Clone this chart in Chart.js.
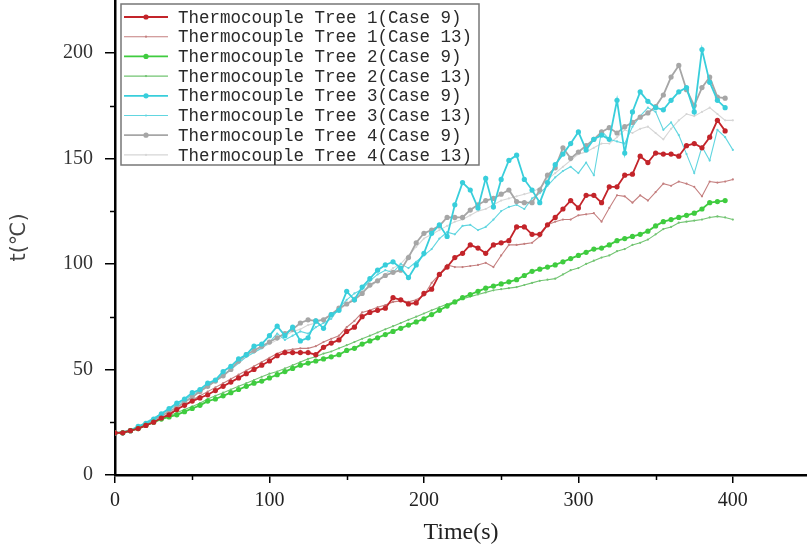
<!DOCTYPE html>
<html>
<head>
<meta charset="utf-8">
<script src="https://cdn.jsdelivr.net/npm/chart.js@4.4.1/dist/chart.umd.min.js"></script>
<style>
html,body{margin:0;padding:0;background:#fff;}
#wrap{width:807px;height:548px;position:relative;}
</style>
</head>
<body>
<div id="wrap"><canvas id="c" width="807" height="548"></canvas></div>
<script>
// time stamps (s)
const time = [0,5,10,15,20,25,30,35,40,45,50,55,60,65,70,75,80,85,90,95,
  100,105,110,115,120,125,130,135,140,145,150,155,160,165,170,175,180,185,190,195,
  200,205,210,215,220,225,230,235,240,245,250,255,260,265,270,275,280,285,290,295,
  300,305,310,315,320,325,330,335,340,345,350,355,360,365,370,375,380,385,390,395,400];

const seriesLabels = [
  "Thermocouple Tree 1(Case 9)", "Thermocouple Tree 1(Case 13)",
  "Thermocouple Tree 2(Case 9)", "Thermocouple Tree 2(Case 13)",
  "Thermocouple Tree 3(Case 9)", "Thermocouple Tree 3(Case 13)",
  "Thermocouple Tree 4(Case 9)", "Thermocouple Tree 4(Case 13)"
];

const tree1Case9 = [20,20,21,22,23.5,25,27,28.5,
  31,33,35,36.5,38,40,42,44,
  46,48,50,52,54,56.5,58,58,
  58,58,57,60.5,62.5,64,68,70,
  75,77,78,79,84,83,81,81.5,
  86,88,95,98.5,103,105,109,107.5,
  105,109,110,111,117.5,117.5,114,114,
  118.5,122,126,130,126.5,132.5,132.5,129,
  136.5,136.5,142,142.5,151,148,152.5,152,
  152,151,156,157,155,160,168,163];

const tree1Case13 = [20,20.5,21,22,23.5,25,27,29,
  31,33,35.5,37.5,39.5,41.5,43.5,45.5,
  47.5,49.5,51.5,53.5,55.5,57.5,59,59.5,
  60,60,61,63,64.5,66,70,73,
  77,78,79.5,80.5,82,82.5,82,83,
  85,91,95,99.5,98.5,98.5,99,99.5,
  100.5,98.5,104,109,109,109.5,110,113,
  118.5,120,121,121,123,123.5,124,120,
  126.5,132.5,132,129,132.5,130,134,138,
  137,139,138,136.5,132,139,138.5,139,
  140];

const tree2Case9 = [20,20,21,22,23.5,25,26.5,27.5,
  28.5,30,31.5,33,35,36,37.5,39,
  40.5,42,43.5,44.5,46,47.5,49,50.5,
  52,53,54,55,56,57,59,60,
  62,63.5,65,66.5,68,69.5,71,72.5,
  74,76,78,80,82,84,85.5,87,
  88.5,89.5,90.5,91.5,92.5,94.5,96.5,97.5,
  98.5,99.5,101,102.5,104,105.5,107,107.5,
  109,111,112,113,114,115.5,118,120,
  121,122,123,124,126,129,129.5,130];

const tree2Case13 = [20,20.5,21,22,23.5,25,26.5,28,
  29.5,31,32.5,34,36,37.5,39,40.5,
  42,43.5,45,46.5,48,49,50.5,52,
  53.5,55,56,57.5,58.5,60,61.5,63,
  64.5,66,67.5,69,70.5,72,73.5,75,
  76.5,78,79.5,81,82,83.5,84.5,85.5,
  86.5,87.5,88,88.5,89,90,91,92,
  92.5,93,95,97,98,100,101.5,103,
  104,106,107,109,110,111.5,114,116.5,
  117.5,119.5,120,120.5,121,122,122.5,122,
  121];

const tree3Case9 = [20,20,21,23,24.5,26.5,29,31.5,
  34,36,39,40.5,43.5,45,49,51.5,
  55,57,61,62,66,70.5,66,70,
  63.5,65,73,69.5,76,78,87,83,
  89,93,97,99.5,101,98,93.5,99.5,
  105,114.5,118.5,113,128,138.5,135,126.5,
  140.5,127,140,149,151.5,140,135,129,
  138.5,147,152,157,162.5,154,159,161,
  159,177.5,152.5,172,181.5,177,174,173,
  177.5,181.5,183.5,172,201.5,186,177.5,174];

const tree3Case13 = [20,20.5,21.5,23,25,27,29,31,
  33,35.5,38,40,42.5,45,47.5,50,
  53,56,58,60,63,67,64,66,
  68,67,70,72,74,79,83,86,
  88,92,95,97,96,100,98,101,
  104,107,112,115,114,118,118.5,116,
  117.5,121,125,127,128,126,131,133.5,
  137,141,144,146,143,148,142,163,
  159,158,157,165,170,174,172,163.5,
  167,161,152,143,155.5,149,163.5,160,
  154];

const tree4Case9 = [20,20,21,22.5,24,26,28,30,
  32,34.5,37,39.5,42,44.5,47,50,
  54,57,59,61,63,65,67,69,
  72,73.5,73,73.5,76,79,81,83,
  86,90,92,94.5,96,97,103,110,
  114.5,116,118,122,122,122,125.5,128,
  130,131,133,135,129.5,129,129,135,
  142,145.5,155,150,153,156,159,162.5,
  164.5,162,165,167,169.5,171.5,174.5,180,
  188.5,194,182.5,175,183.5,188.5,179,178.5];

const tree4Case13 = [20,20.5,21,22.5,24.5,26.5,28.5,30.5,
  32.5,35,37,39.5,42,44.5,47,50,
  53,56,58,60.5,62,64,66,68,
  69,71,72,74,76,78,81,84,
  87,89,92,95,98,100,104,108,
  112,114,116,118,120,121,123,125,
  126,128,130,131,132,133,134,136,
  140,143,146,149,152,153,155,157,
  157,160,163.5,162,164,165,162,159,
  164,168,171,170,172,174,171,168,
  168];

const xTickLabels = [0,100,200,300,400];
const yTickLabels = [0,50,100,150,200];

const values = [tree1Case9, tree1Case13, tree2Case9, tree2Case13, tree3Case9, tree3Case13, tree4Case9, tree4Case13];
const colors = ['#c3242a','#c47f7f','#3fcc3f','#72c472','#38cedb','#62d6e0','#a6a6a6','#d6d6d6'];

function pts(arr){ return arr.map((v,i)=>({x: time[i], y: v})); }

const datasets = values.map((arr, i) => {
  const case9 = i % 2 === 0;
  return {
    label: seriesLabels[i],
    data: pts(arr),
    borderColor: colors[i],
    backgroundColor: colors[i],
    borderWidth: case9 ? 1.8 : 1.1,
    pointRadius: case9 ? 2.6 : 1.1,
    pointBorderWidth: 0,
    pointBackgroundColor: colors[i],
    tension: 0,
    order: case9 ? 1 : 2
  };
});

const minorTicks = {
  id: 'minorTicks',
  afterDraw(chart) {
    const ctx = chart.ctx;
    const xs = chart.scales.x, ys = chart.scales.y;
    ctx.save();
    ctx.strokeStyle = '#000';
    ctx.lineWidth = 1.5;
    [25,75,125,175].forEach(v => {
      const p = Math.round(ys.getPixelForValue(v)) + 0.5;
      ctx.beginPath(); ctx.moveTo(ys.right - 5, p); ctx.lineTo(ys.right, p); ctx.stroke();
    });
    [50,150,250,350].forEach(v => {
      const p = Math.round(xs.getPixelForValue(v)) + 0.5;
      ctx.beginPath(); ctx.moveTo(p, xs.top); ctx.lineTo(p, xs.top + 5); ctx.stroke();
    });
    ctx.restore();
  }
};

const boxLegend = {
  id: 'boxLegend',
  afterDraw(chart) {
    const ctx = chart.ctx;
    const bx = 121, by = 4, bw = 358, bh = 161;
    ctx.save();
    ctx.fillStyle = '#fff';
    ctx.fillRect(bx, by, bw, bh);
    ctx.strokeStyle = '#777';
    ctx.lineWidth = 1.5;
    ctx.strokeRect(bx, by, bw, bh);
    ctx.font = '17.5px "Liberation Mono", "DejaVu Sans Mono", monospace';
    ctx.textBaseline = 'middle';
    chart.data.datasets.forEach((ds, i) => {
      const y = 17 + i * 19.7;
      ctx.strokeStyle = ds.borderColor;
      ctx.lineWidth = ds.borderWidth;
      ctx.beginPath(); ctx.moveTo(124, y); ctx.lineTo(168, y); ctx.stroke();
      ctx.fillStyle = ds.borderColor;
      ctx.beginPath(); ctx.arc(146, y, ds.pointRadius, 0, Math.PI*2); ctx.fill();
      ctx.fillStyle = '#2a2a2a';
      ctx.fillText(ds.label, 178, y + 1);
    });
    ctx.restore();
  }
};

new Chart(document.getElementById('c'), {
  type: 'line',
  data: { datasets },
  options: {
    responsive: false,
    animation: false,
    layout: { padding: 0, autoPadding: false },
    plugins: { legend: { display: false }, tooltip: { enabled: false } },
    scales: {
      x: {
        type: 'linear', min: 0, max: 448,
        afterBuildTicks: s => { s.ticks = xTickLabels.map(v => ({ value: v })); },
        afterFit: s => { s.height = 73; s.paddingLeft = 0; s.paddingRight = 0; },
        ticks: { color: '#222', padding: 6, font: { family: '"Liberation Serif", serif', size: 20 } },
        grid: { drawOnChartArea: false, drawTicks: true, tickLength: 8, color: '#000', lineWidth: 1.5 },
        border: { display: true, color: '#000', width: 2.5 },
        title: { display: true, text: 'Time(s)', color: '#222', padding: { top: 0, bottom: 1 },
                 font: { family: '"Liberation Serif", serif', size: 24 } }
      },
      y: {
        type: 'linear', min: 0, max: 225,
        afterBuildTicks: s => { s.ticks = yTickLabels.map(v => ({ value: v })); },
        afterFit: s => { s.width = 115; s.paddingTop = 0; s.paddingBottom = 0; },
        ticks: { color: '#333', padding: 12, font: { family: '"Liberation Serif", serif', size: 20 } },
        grid: { drawOnChartArea: false, drawTicks: true, tickLength: 10, color: '#000', lineWidth: 1.5 },
        border: { display: true, color: '#000', width: 2.5 },
        title: { display: true, text: 't(℃)', color: '#444', padding: { top: 7, bottom: 0 },
                 font: { family: '"DejaVu Sans", sans-serif', size: 21 } }
      }
    }
  },
  plugins: [minorTicks, boxLegend]
});
</script>
</body>
</html>
